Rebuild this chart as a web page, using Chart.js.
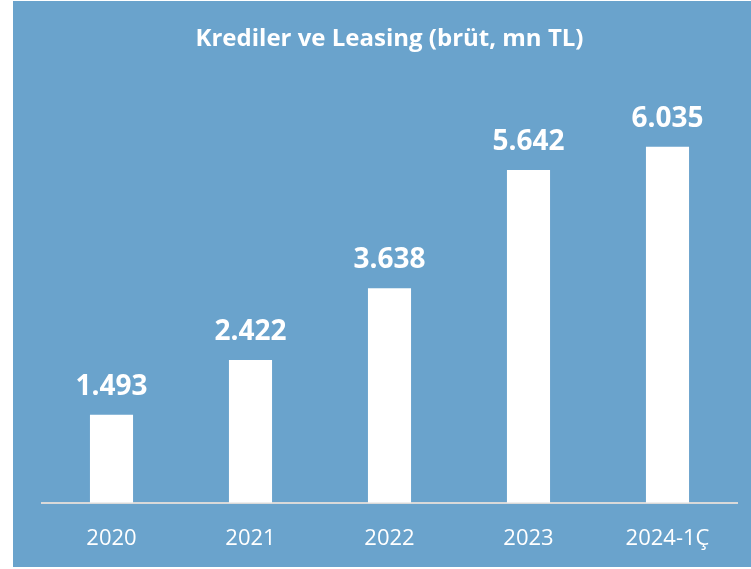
<!DOCTYPE html>
<html>
<head>
<meta charset="utf-8">
<script src="https://cdn.jsdelivr.net/npm/chart.js@4.4.1/dist/chart.umd.min.js"></script>
<style>
  body { margin: 0; background: #fff; }
  #wrap { position: absolute; left: 13px; top: 1px; width: 738px; height: 566px; background: #6aa3cc; }
</style>
</head>
<body>
<div id="wrap"><canvas id="kredilerChart"></canvas></div>
<script>
const categories = ['2020', '2021', '2022', '2023', '2024-1Ç'];
const kredilerLeasing = [1493, 2422, 3638, 5642, 6035];
const chartTitle = 'Krediler ve Leasing (brüt, mn TL)';

const fmt = new Intl.NumberFormat('tr-TR');

// etiketleri çubukların üstüne yaz
const valueLabels = {
  id: 'valueLabels',
  afterDatasetsDraw(chart) {
    const ctx = chart.ctx;
    const meta = chart.getDatasetMeta(0);
    ctx.save();
    ctx.fillStyle = '#ffffff';
    ctx.font = 'bold 28px "Open Sans"';
    ctx.textAlign = 'center';
    ctx.textBaseline = 'alphabetic';
    meta.data.forEach(function (bar, i) {
      ctx.fillText(fmt.format(kredilerLeasing[i]), bar.x, bar.y - 20);
    });
    ctx.restore();
  }
};

const ctx = document.getElementById('kredilerChart').getContext('2d');

let chart = new Chart(ctx, {
  type: 'bar',
  data: {
    labels: categories,
    datasets: [{
      label: chartTitle,
      data: kredilerLeasing,
      backgroundColor: '#ffffff',
      borderWidth: 0,
      categoryPercentage: 1,
      barPercentage: 0.31
    }]
  },
  options: {
    responsive: true,
    maintainAspectRatio: false,
    animation: false,
    layout: {
      padding: { left: 29, right: 14, top: 0, bottom: 0 }
    },
    plugins: {
      legend: { display: false },
      tooltip: { enabled: false },
      title: {
        display: true,
        text: chartTitle,
        color: '#ffffff',
        font: { family: 'Open Sans', size: 24, weight: 'bold', lineHeight: 1.2 },
        padding: { top: 24, bottom: 36 }
      }
    },
    scales: {
      x: {
        grid: { display: false },
        border: { display: true, color: '#d9d9d9', width: 2 },
        ticks: {
          color: '#ffffff',
          padding: 16,
          font: { family: 'Open Sans', size: 22, lineHeight: 1.1 }
        }
      },
      y: {
        display: false,
        min: 0,
        max: 7000
      }
    }
  },
  plugins: [valueLabels]
});
</script>
</body>
</html>
